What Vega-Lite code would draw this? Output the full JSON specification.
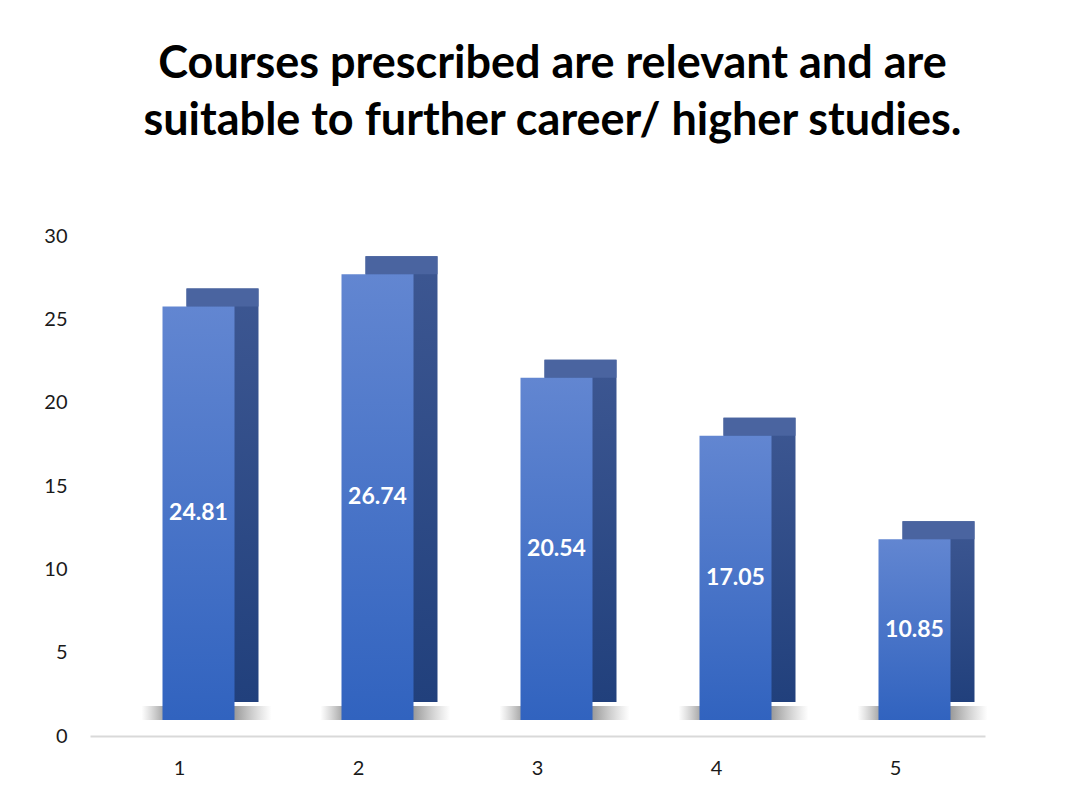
{
  "$schema": "https://vega.github.io/schema/vega-lite/v6.json",
  "autosize": "none",
  "width": 895,
  "height": 500,
  "padding": {"left": 90, "top": 236, "right": 100, "bottom": 57},
  "background": "#ffffff",
  "config": {"view": {"stroke": null}, "font": "Lato"},
  "title": {
    "text": ["Courses prescribed are relevant and are", "suitable to further career/ higher studies."],
    "font": "Lato",
    "fontSize": 45,
    "fontWeight": "bold",
    "color": "#000000",
    "lineHeight": 57,
    "anchor": "middle",
    "frame": "group",
    "dx": 15,
    "offset": 82
  },
  "data": {
    "values": [
      {"c": "1", "v": 24.81},
      {"c": "2", "v": 26.74},
      {"c": "3", "v": 20.54},
      {"c": "4", "v": 17.05},
      {"c": "5", "v": 10.85}
    ]
  },
  "encoding": {
    "x": {
      "field": "c",
      "type": "ordinal",
      "scale": {"paddingInner": 0, "paddingOuter": 0},
      "axis": {
        "title": null,
        "labelAngle": 0,
        "labelFont": "Lato",
        "labelFontSize": 20,
        "labelColor": "#1a1a1a",
        "labelPadding": 22,
        "ticks": false,
        "domainColor": "#d9d9d9",
        "domainWidth": 2
      }
    }
  },
  "layer": [
    {
      "mark": {
        "type": "tick",
        "size": 130,
        "thickness": 14,
        "xOffset": 27,
        "yOffset": -23,
        "opacity": 1,
        "color": {
          "gradient": "linear", "x1": 0, "y1": 0, "x2": 1, "y2": 0,
          "stops": [
            {"offset": 0, "color": "rgba(80,80,80,0)"},
            {"offset": 0.2, "color": "rgba(40,40,40,0.5)"},
            {"offset": 0.7, "color": "rgba(40,40,40,0.5)"},
            {"offset": 1, "color": "rgba(80,80,80,0)"}
          ]
        }
      },
      "encoding": {"y": {"datum": 0, "type": "quantitative", "scale": {"domain": [0, 30]}, "axis": null}}
    },
    {
      "mark": {
        "type": "bar",
        "width": 72,
        "xOffset": 43,
        "yOffset": -34,
        "y2Offset": -34,
        "color": {
          "gradient": "linear", "x1": 0, "y1": 0, "x2": 0, "y2": 1,
          "stops": [{"offset": 0, "color": "#3d5792"}, {"offset": 1, "color": "#21407c"}]
        }
      },
      "encoding": {
        "y": {
          "field": "v",
          "type": "quantitative",
          "scale": {"domain": [0, 30]},
          "axis": {
            "title": null,
            "values": [0, 5, 10, 15, 20, 25, 30],
            "grid": false,
            "domain": false,
            "ticks": false,
            "labelFont": "Lato",
            "labelFontSize": 20,
            "labelColor": "#1a1a1a",
            "labelPadding": 23
          }
        }
      }
    },
    {
      "mark": {
        "type": "tick",
        "size": 72,
        "thickness": 18,
        "xOffset": 43,
        "yOffset": -25,
        "color": "#4a64a0",
        "opacity": 1
      },
      "encoding": {"y": {"field": "v", "type": "quantitative", "scale": {"domain": [0, 30]}, "axis": null}}
    },
    {
      "mark": {
        "type": "bar",
        "width": 72,
        "xOffset": 19,
        "yOffset": -16,
        "y2Offset": -16,
        "color": {
          "gradient": "linear", "x1": 0, "y1": 0, "x2": 0, "y2": 1,
          "stops": [{"offset": 0, "color": "#6286d1"}, {"offset": 1, "color": "#3163bf"}]
        }
      },
      "encoding": {"y": {"field": "v", "type": "quantitative", "scale": {"domain": [0, 30]}, "axis": null}}
    },
    {
      "mark": {
        "type": "text",
        "xOffset": 19,
        "yOffset": -16,
        "font": "Lato",
        "fontSize": 23,
        "fontWeight": "bold",
        "color": "#ffffff"
      },
      "encoding": {
        "y": {"field": "v", "type": "quantitative", "scale": {"domain": [0, 60]}, "axis": null},
        "text": {"field": "v", "type": "quantitative", "format": ".2f"}
      }
    }
  ],
  "resolve": {"scale": {"y": "independent"}}
}
